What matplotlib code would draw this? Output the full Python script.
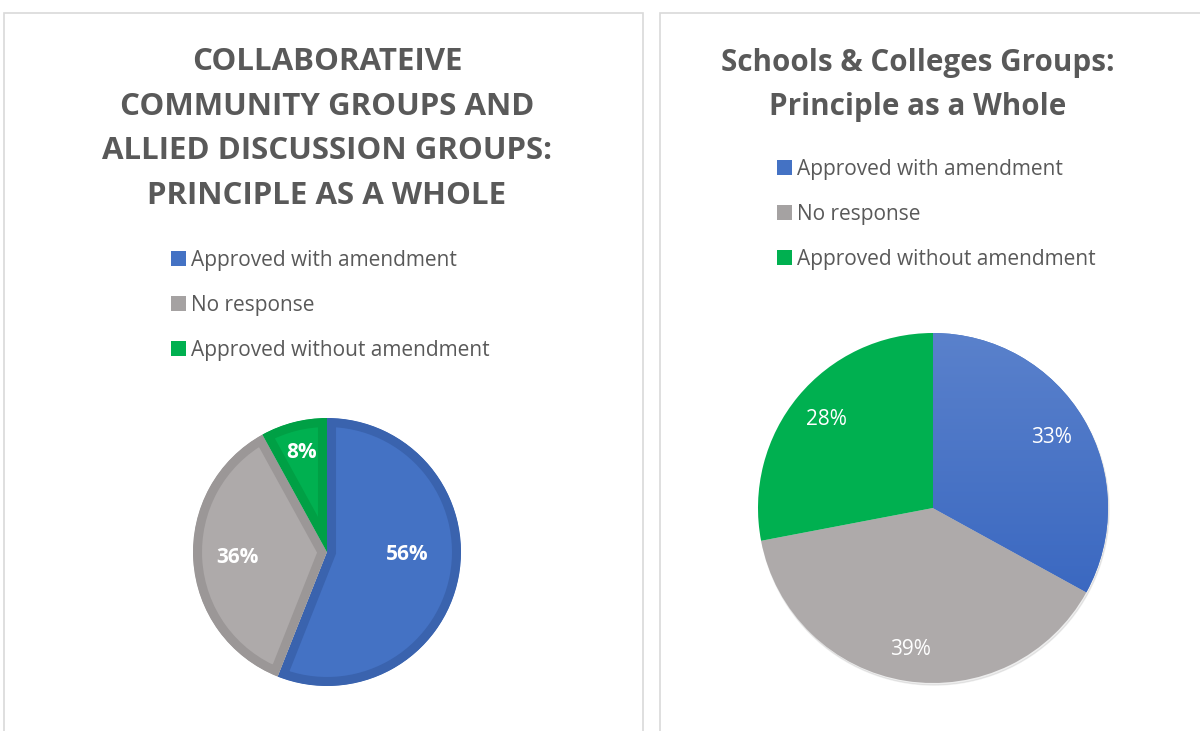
import matplotlib.pyplot as plt
import numpy as np
from matplotlib.patches import Rectangle, Patch
from matplotlib.colors import LinearSegmentedColormap

W, H = 1200, 731

labels = ['Approved with amendment', 'No response', 'Approved without amendment']
left_values = [56, 36, 8]
right_values = [33, 39, 28]

left_title = 'COLLABORATEIVE\nCOMMUNITY GROUPS AND\nALLIED DISCUSSION GROUPS:\nPRINCIPLE AS A WHOLE'
right_title = 'Schools & Colleges Groups:\nPrinciple as a Whole'

left_colors = ['#4472c4', '#aeaaaa', '#00b050']
left_edges = ['#3a63ae', '#9b9797', '#00a045']
right_colors = ['#4472c4', '#aeaaaa', '#00b050']
legend_colors = ['#4472c4', '#a5a2a2', '#00b050']

# label placement (radius fraction, angle nudge in degrees)
left_label_dist = [0.6, 0.67, 0.77]
left_label_shift = [9, 0, 0]
right_label_dist = [0.79, 0.82, 0.79]
right_label_shift = [0, 0, 0]

text_color = '#595959'


def px_axes(fig, x0, y0, w, h):
    return fig.add_axes([x0 / W, 1 - (y0 + h) / H, w / W, h / H])


fig = plt.figure(figsize=(W / 100, H / 100), dpi=100)

# panel borders
for x0, x1 in [(4, 643), (660, 1215)]:
    fig.add_artist(Rectangle((x0 / W, -0.05), (x1 - x0) / W, 1 - 13 / H + 0.05,
                             transform=fig.transFigure, fill=False,
                             edgecolor='#d9d9d9', linewidth=1.2))


def place_labels(ax, wedges, values, dists, shifts, weight, size):
    for w, v, d, s in zip(wedges, values, dists, shifts):
        ang = np.deg2rad((w.theta1 + w.theta2) / 2 + s)
        ax.text(d * np.cos(ang), d * np.sin(ang), f'{v}%', ha='center', va='center',
                color='white', fontsize=size, fontweight=weight, family='Open Sans')


# left pie
ax1 = px_axes(fig, 327 - 134, 552 - 134, 268, 268)
wedges1, _ = ax1.pie(left_values, colors=left_colors, startangle=90, counterclock=False,
                     radius=1)
for w, ec in zip(wedges1, left_edges):
    w.set_edgecolor(ec)
    w.set_linewidth(13)
    w.set_joinstyle('miter')
    w.set_clip_on(True)
    w.set_clip_path(w)
place_labels(ax1, wedges1, left_values, left_label_dist, left_label_shift, 'bold', 15)
ax1.set_xlim(-1, 1)
ax1.set_ylim(-1, 1)
ax1.set_aspect('equal')
ax1.axis('off')

# right pie
ax2 = px_axes(fig, 933 - 175 * 1.06, 508 - 175 * 1.06, 350 * 1.06, 350 * 1.06)
shadow = plt.Circle((0.006, -0.012), 1.0, color='#000000', alpha=0.07, zorder=0)
ax2.add_patch(shadow)
wedges2, _ = ax2.pie(right_values, colors=right_colors, startangle=90, counterclock=False,
                     radius=1)
# vertical gradient on the blue slice
grad = np.linspace(0, 1, 256).reshape(-1, 1)
cmap = LinearSegmentedColormap.from_list('b', ['#5b82cc', '#2f5fbd'])
im = ax2.imshow(grad, extent=[-1.05, 1.05, -1.05, 1.05], origin='upper', cmap=cmap,
                aspect='auto', zorder=wedges2[0].get_zorder() + 0.1)
im.set_clip_path(wedges2[0])
place_labels(ax2, wedges2, right_values, right_label_dist, right_label_shift, 'normal', 15)
ax2.set_xlim(-1.06, 1.06)
ax2.set_ylim(-1.06, 1.06)
ax2.set_aspect('equal')
ax2.axis('off')

# titles
fig.text(327 / W, 1 - 47 / H, left_title, ha='center', va='top', color=text_color,
         fontsize=22.5, fontweight='bold', family='Open Sans', linespacing=1.64)
fig.text(918 / W, 1 - 48 / H, right_title, ha='center', va='top', color=text_color,
         fontsize=21.3, fontweight='bold', family='Open Sans', linespacing=1.62)

# legends
handles = [Patch(facecolor=c, edgecolor='none') for c in legend_colors]
for x0, y0 in [(171, 250), (777, 159)]:
    fig.legend(handles, labels, loc='upper left', bbox_to_anchor=(x0 / W, 1 - y0 / H),
               frameon=False, handlelength=0.7, handleheight=0.7, handletextpad=0.25,
               labelspacing=1.15, borderpad=0, borderaxespad=0,
               prop={'family': 'Open Sans', 'size': 15}, labelcolor=text_color)

fig.savefig('out.png', dpi=100)
